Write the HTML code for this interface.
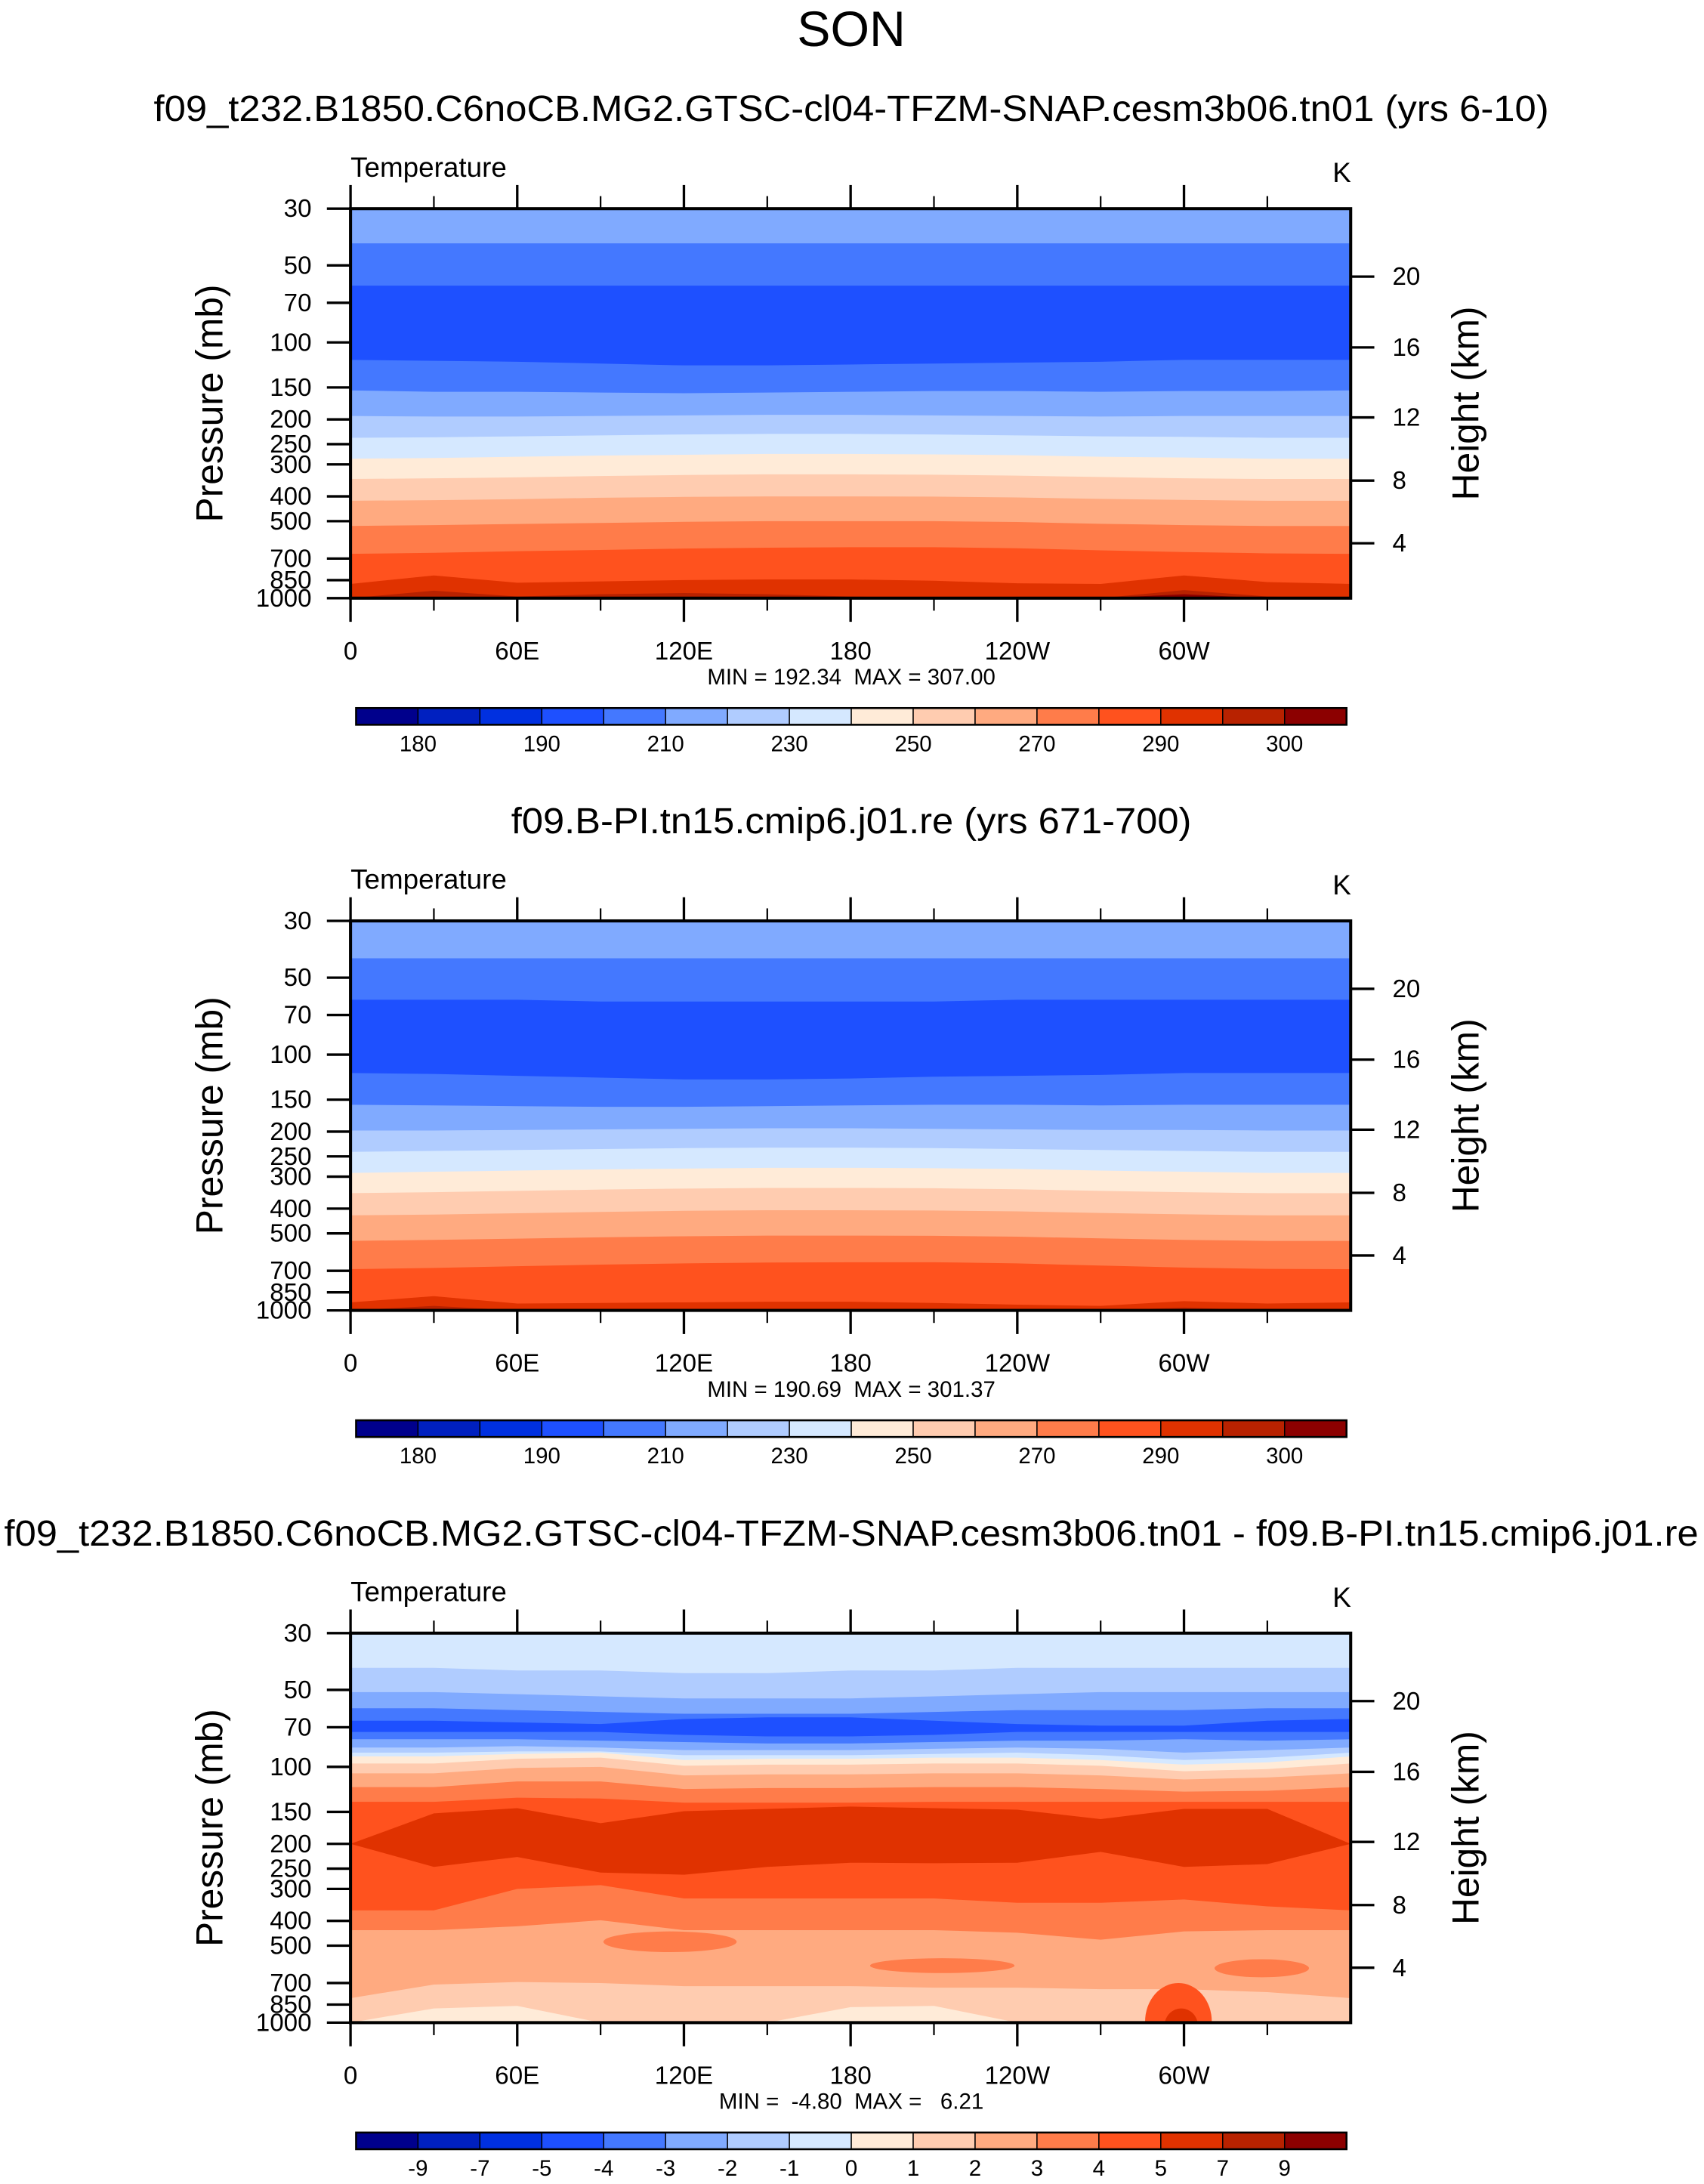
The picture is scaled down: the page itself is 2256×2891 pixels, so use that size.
<!DOCTYPE html>
<html><head><meta charset="utf-8"><style>
html,body{margin:0;padding:0;background:#fff;}
svg{display:block;font-family:"Liberation Sans",Arial,sans-serif;}
text{white-space:pre;}
</style></head><body>
<svg id="fig" width="2256" height="2891" viewBox="0 0 1225 1570" preserveAspectRatio="none" xmlns="http://www.w3.org/2000/svg"></svg>
<script>
// ---------- data ----------
const lons = [0,30,60,90,120,150,180,210,240,270,300,330,360];
const pressureTicks = [30,50,70,100,150,200,250,300,400,500,700,850,1000];
const heightTicks = [20,16,12,8,4];
const heightTickP = [55.3,104.6,196.5,347,610];
const lonLabels = ["0","60E","120E","180","120W","60W"];
const lonLabelValues = [0,60,120,180,240,300];
const palette = ["#00008C","#0020C0","#0030E0","#1E50FF","#4478FF","#80AAFF","#B0CCFF","#D5E8FF","#FFEBD8","#FFCCB0","#FFAA80","#FF7C4A","#FF521E","#E03200","#B82200","#8C0000"];
const cbLabelsAbs = ["180","190","210","230","250","270","290","300"];
const cbLabelsDiff = ["-9","-7","-5","-4","-3","-2","-1","0","1","2","3","4","5","7","9"];

const p1Top = 5;
const p1Colors = [4,3,4,5,6,7,8,9,10,11,12,13,14,15];
const p1Bounds = [
 [41,41,41,41,41,41,41,41,41,41,41,41,41],
 [60,60,60,60,60,60,60,60,60,60,60,60,60],
 [117,118,119,121,123,123,122,121,120,119,117,117,117],
 [154,156,156,157,158,157,156,155,155,156,155,155,154],
 [194,195,195,194,193,192,192,193,194,195,194,194,194],
 [236,235,233,231,229,228,228,229,231,233,234,236,236],
 [285,283,280,277,275,273,273,274,276,280,282,285,285],
 [342,340,337,333,330,328,328,329,332,336,340,342,342],
 [416,414,410,405,402,400,400,401,404,409,413,416,416],
 [522,518,513,508,503,500,500,500,504,512,518,522,522],
 [671,665,655,648,640,635,632,632,638,650,660,668,671],
 [880,815,870,860,850,845,845,855,875,880,815,865,880],
 [1000,935,985,965,955,965,985,1000,1000,1000,930,985,1000],
 [1000,1000,1000,1000,1000,1000,1000,1000,1000,1000,965,1000,1000]
];
const p2Top = 5;
const p2Colors = [4,3,4,5,6,7,8,9,10,11,12,13,14];
const p2Bounds = [
 [42,42,42,42,42,42,42,42,42,42,42,42,42],
 [61,61,61,62,62,62,62,62,61,61,61,61,61],
 [118,119,121,123,125,125,124,122,121,120,118,118,118],
 [157,158,159,160,160,159,158,157,157,158,157,157,157],
 [198,198,197,196,195,194,194,195,196,197,197,198,198],
 [240,238,236,234,232,231,231,232,234,236,238,240,240],
 [290,287,284,281,279,277,277,278,280,284,287,290,290],
 [348,345,341,337,334,332,332,333,336,341,345,348,348],
 [425,422,417,412,408,406,406,407,410,416,421,425,425],
 [535,530,524,518,513,510,510,511,515,523,530,535,535],
 [690,682,672,662,655,650,648,648,655,668,680,688,690],
 [930,880,940,935,930,925,925,935,950,960,920,940,930],
 [1000,960,1000,1000,1000,1000,1000,1000,1000,1000,975,1000,1000]
];
const p3Top = 7;
const p3Colors = [6,5,4,3,4,5,6,7,8,9,10,11,12];
const p3Bounds = [
 [41,41,42,42,43,43,42,42,41,41,41,41,41],
 [51,51,52,53,54,54,54,53,52,51,51,51,51],
 [59,59,60,61,62,62,62,61,60,60,60,59,59],
 [66,66,67,68,65,64,64,66,68,69,69,66,65],
 [73,73,73,73,75,76,76,75,73,73,73,73,73],
 [78,78,78,79,80,81,81,80,79,79,78,79,78],
 [84,84,83,84,86,86,86,85,84,85,88,86,84],
 [88,88,87,87,90,90,90,89,88,90,94,92,88],
 [91,91,89,88,94,93,93,92,92,94,98,96,91],
 [97,97,93,92,99,98,98,97,97,99,104,102,97],
 [106,106,101,100,108,107,107,106,106,108,112,110,106],
 [120,120,114,114,122,121,121,120,120,122,125,124,120],
 [137,137,132,133,138,138,138,137,137,137,137,137,137]
];
const p3DarkUpper = [200,152,145,166,149,146,143,145,147,160,146,146,200];
const p3DarkLower = [200,246,225,259,264,246,237,238,237,215,246,240,200];
const p3LowColors = [11,10,9,8];
const p3LowBounds = [
 [364,364,300,290,327,327,327,327,340,340,330,351,364],
 [435,435,420,398,435,435,435,435,445,474,440,435,435],
 [802,710,694,700,720,720,720,730,730,740,740,760,802],
 [1000,880,860,1000,1000,1000,870,860,1000,1000,1000,1000,1000]
];
// blobs: [lonCenter, lonHalfWidth, pTop, pBottom, colourIndex]
const p3Blobs = [
 [115,24,440,530,11],[213,26,560,640,11],[328,17,565,665,11],[298,12,700,1400,12],[299,6,880,1200,13]
];

// ---------- layout ----------
const svg = document.getElementById('fig');
const NS = 'http://www.w3.org/2000/svg';
const X0 = 252, X1 = 971;
const panelTops = [150, 662, 1174];
const PH = 280;
function mk(tag, attrs, parent){const e=document.createElementNS(NS,tag);for(const k in attrs)e.setAttribute(k,attrs[k]);(parent||svg).appendChild(e);return e;}
function xs(lon){return X0 + lon/360*(X1-X0);}
function ys(p, top){return top + Math.log(p/30)/Math.log(1000/30)*PH;}
function txt(x,y,s,size,anchor,name,parent,extra){
  const t=mk('text',Object.assign({x:x,y:y,'font-size':size,'text-anchor':anchor||'middle',fill:'#000'},extra||{}),parent);
  t.textContent=s;
  
  
  return t;
}
function linePts(arr, top){return lons.map((l,i)=>[xs(l),ys(arr[i],top)]);}

txt(612,33,"SON",36,'middle','main-title');
const titles = [
 ["f09_t232.B1850.C6noCB.MG2.GTSC-cl04-TFZM-SNAP.cesm3b06.tn01 (yrs 6-10)",87,1003,'panel1-title'],
 ["f09.B-PI.tn15.cmip6.j01.re (yrs 671-700)",599,489,'panel2-title'],
 ["f09_t232.B1850.C6noCB.MG2.GTSC-cl04-TFZM-SNAP.cesm3b06.tn01 - f09.B-PI.tn15.cmip6.j01.re",1111,1218,'panel3-title']
];
titles.forEach(t=>{txt(612,t[1],t[0],26,'middle',t[3],null,{textLength:t[2],lengthAdjust:'spacingAndGlyphs'});});

function drawPanel(idx, topColor, colors, bounds, extra, cbLabels, minmax){
  const top = panelTops[idx];
  const g = mk('g',{});
  
  
  const cid='clip'+idx;
  const cp=mk('clipPath',{id:cid},g);
  mk('rect',{x:X0,y:top,width:X1-X0,height:PH},cp);
  const plot=mk('g',{'clip-path':'url(#'+cid+')'},g);
  
  
  const bg=mk('rect',{x:X0,y:top,width:X1-X0,height:PH,fill:palette[topColor]},plot);
  
  
  function fillBelow(arr,c){
    const pts=linePts(arr,top);
    let d='M'+pts.map(p=>p[0].toFixed(2)+','+p[1].toFixed(2)).join(' L')+' L'+xs(360)+','+(top+PH+2)+' L'+xs(0)+','+(top+PH+2)+' Z';
    const e=mk('path',{d:d,fill:palette[c]},plot);
    
    
  }
  bounds.forEach((b,i)=>fillBelow(b,colors[i]));
  if(extra) extra(plot, top, fillBelow);
  const fr=mk('rect',{x:X0,y:top,width:X1-X0,height:PH,fill:'none',stroke:'#000','stroke-width':2.2},g);
  
  
  for(let l=0;l<360;l+=30){
    const major=(l%60===0);const len=major?17:9;
    mk('line',{x1:xs(l),x2:xs(l),y1:top,y2:top-len,stroke:'#000','stroke-width':major?1.8:1.2},g);
    mk('line',{x1:xs(l),x2:xs(l),y1:top+PH,y2:top+PH+len,stroke:'#000','stroke-width':major?1.8:1.2},g);
  }
  lonLabels.forEach((s,i)=>txt(xs(lonLabelValues[i]),top+PH+44,s,18,'middle','x-tick-label',g));
  pressureTicks.forEach(p=>{
    const y=ys(p,top);
    mk('line',{x1:X0-17,x2:X0,y1:y,y2:y,stroke:'#000','stroke-width':1.8},g);
    txt(X0-28,y+6,String(p),18,'end','y-tick-label',g);
  });
  heightTicks.forEach((h,i)=>{
    const y=ys(heightTickP[i],top);
    mk('line',{x1:X1,x2:X1+17,y1:y,y2:y,stroke:'#000','stroke-width':1.8},g);
    txt(X1+30,y+6,String(h),18,'start','right-tick-label',g);
  });
  txt(252,top-23,"Temperature",20,'start','variable-label',g);
  txt(958,top-19,"K",20,'start','units-label',g);
  const yl=txt(0,0,"Pressure (mb)",27,'middle','y-axis-title',g);
  yl.setAttribute('transform','translate(160,'+(top+140)+') rotate(-90)');
  const hl=txt(0,0,"Height (km)",27,'middle','right-axis-title',g);
  hl.setAttribute('transform','translate(1063,'+(top+140)+') rotate(-90)');
  txt(612,top+PH+62,minmax,16,'middle','min-max-label',g);
  const cbY=top+PH+79, cbX=256, cbW=712, bw=cbW/16;
  for(let i=0;i<16;i++){
    const r=mk('rect',{x:cbX+i*bw,y:cbY,width:bw,height:12,fill:palette[i],stroke:'#000','stroke-width':0.8},g);
    
    
  }
  mk('rect',{x:cbX,y:cbY,width:cbW,height:12,fill:'none',stroke:'#000','stroke-width':1.4},g);
  const step = cbLabels.length>8 ? 1 : 2;
  cbLabels.forEach((s,i)=>txt(cbX+bw*(1+i*step),cbY+31,s,16,'middle','colorbar-label',g));
}

drawPanel(0,p1Top,p1Colors,p1Bounds,null,cbLabelsAbs,"MIN = 192.34  MAX = 307.00");
drawPanel(1,p2Top,p2Colors,p2Bounds,null,cbLabelsAbs,"MIN = 190.69  MAX = 301.37");
drawPanel(2,p3Top,p3Colors,p3Bounds,function(plot,top,fillBelow){
  const up=linePts(p3DarkUpper,top), lo=linePts(p3DarkLower,top).reverse();
  const d='M'+up.concat(lo).map(p=>p[0].toFixed(2)+','+p[1].toFixed(2)).join(' L')+' Z';
  const e=mk('path',{d:d,fill:palette[13]},plot);
  
  
  p3LowBounds.forEach((b,i)=>fillBelow(b,p3LowColors[i]));
  p3Blobs.forEach(b=>{
    const yt=ys(b[2],top), yb=ys(b[3],top);
    const el=mk('ellipse',{cx:xs(b[0]),cy:(yt+yb)/2,rx:(xs(b[1])-xs(0)),ry:(yb-yt)/2,fill:palette[b[4]]},plot);
    
    
  });
},cbLabelsDiff,"MIN =  -4.80  MAX =   6.21");
</script>
</body></html>
